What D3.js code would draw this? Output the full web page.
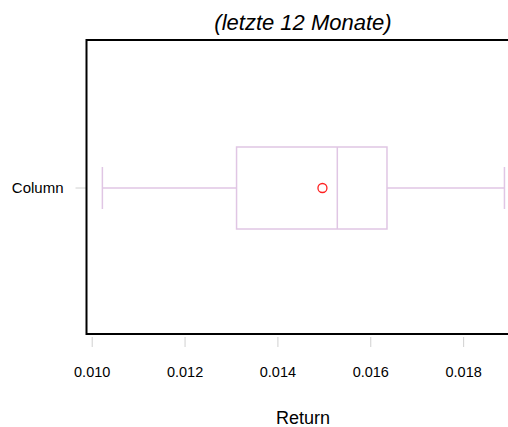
<!DOCTYPE html>
<html>
<head>
<meta charset="utf-8">
<script src="https://cdn.jsdelivr.net/npm/d3@7"></script>
<style>
  body { margin: 0; background: #fff; }
  text { font-family: "Liberation Sans", Arial, sans-serif; fill: #000; }
</style>
</head>
<body>
<div id="chart"></div>
<script>

// data
var categories = ["Column"];
var whiskerLow = [0.01023];
var q1 = [0.01312];
var median = [0.01529];
var q3 = [0.01636];
var whiskerHigh = [0.01889];
var means = [0.01497];
var xTicks = [0.010, 0.012, 0.014, 0.016, 0.018];
var title = "(letzte 12 Monate)";
var xTitle = "Return";

var width = 508, height = 427;
var plotLeft = 86.5, plotTop = 40, plotBottom = 334, plotRight = 520;

var svg = d3.select("#chart").append("svg")
    .attr("width", width)
    .attr("height", height);

var x = d3.scaleLinear()
    .domain([0.009888, 0.019225])
    .range([plotLeft, plotRight]);

var y = d3.scaleBand()
    .domain(categories)
    .range([plotTop, plotBottom + 2]);

// x ticks below the frame
var xAxis = svg.append("g")
    .attr("transform", "translate(0," + (plotBottom + 3) + ")")
    .call(d3.axisBottom(x).tickValues(xTicks).tickFormat(d3.format(".3f")).tickSize(10).tickPadding(20));
xAxis.select(".domain").remove();
xAxis.selectAll("line").attr("stroke", "#d0d0d0");
xAxis.selectAll("text").style("font-size", "14.5px").attr("font-family", null);

// y ticks left of frame
var yAxis = svg.append("g")
    .attr("transform", "translate(" + plotLeft + ",0)")
    .call(d3.axisLeft(y).tickSize(11).tickPadding(12));
yAxis.select(".domain").remove();
yAxis.selectAll("line").attr("stroke", "#d0d0d0");
yAxis.selectAll("text").style("font-size", "15px").attr("font-family", null);

// frame: left, top, bottom
svg.append("path")
    .attr("d", "M" + (plotRight + 10) + "," + plotTop + "H" + plotLeft + "V" + plotBottom + "H" + (plotRight + 10))
    .attr("fill", "none")
    .attr("stroke", "#000")
    .attr("stroke-width", 2);

var boxColor = "#e0c6e4";

var g = svg.append("g");
categories.forEach(function (c, i) {
    var cy = y(c) + y.bandwidth() / 2;
    var bh = 82, ch = 42;

    g.append("line")
        .attr("x1", x(whiskerLow[i])).attr("x2", x(q1[i]))
        .attr("y1", cy).attr("y2", cy)
        .attr("stroke", boxColor).attr("stroke-width", 1.5);
    g.append("line")
        .attr("x1", x(q3[i])).attr("x2", x(whiskerHigh[i]))
        .attr("y1", cy).attr("y2", cy)
        .attr("stroke", boxColor).attr("stroke-width", 1.5);
    [whiskerLow[i], whiskerHigh[i]].forEach(function (v) {
        g.append("line")
            .attr("x1", x(v)).attr("x2", x(v))
            .attr("y1", cy - ch / 2).attr("y2", cy + ch / 2)
            .attr("stroke", boxColor).attr("stroke-width", 1.5);
    });
    g.append("rect")
        .attr("x", x(q1[i])).attr("width", x(q3[i]) - x(q1[i]))
        .attr("y", cy - bh / 2).attr("height", bh)
        .attr("fill", "none")
        .attr("stroke", boxColor).attr("stroke-width", 1.5);
    g.append("line")
        .attr("x1", x(median[i])).attr("x2", x(median[i]))
        .attr("y1", cy - bh / 2).attr("y2", cy + bh / 2)
        .attr("stroke", boxColor).attr("stroke-width", 1.5);
    g.append("circle")
        .attr("cx", x(means[i])).attr("cy", cy)
        .attr("r", 4.5)
        .attr("fill", "none")
        .attr("stroke", "#ff2020").attr("stroke-width", 1.3);
});

svg.append("text")
    .attr("x", 303).attr("y", 30)
    .attr("text-anchor", "middle")
    .style("font-size", "22px")
    .style("font-style", "italic")
    .text(title);

svg.append("text")
    .attr("x", 303).attr("y", 424)
    .attr("text-anchor", "middle")
    .style("font-size", "18px")
    .text(xTitle);

</script>
</body>
</html>
